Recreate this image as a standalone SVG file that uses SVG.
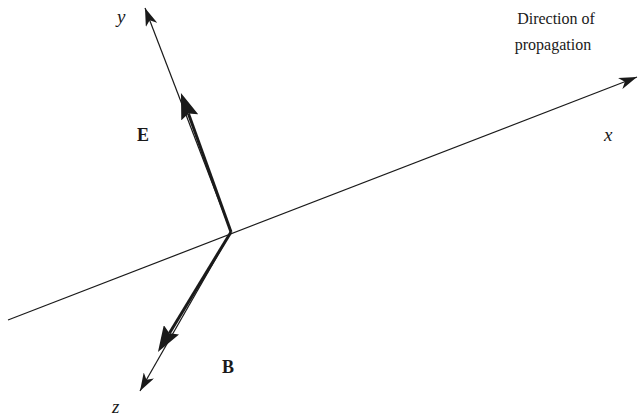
<svg xmlns="http://www.w3.org/2000/svg" width="638" height="417" viewBox="0 0 638 417">
<defs>
<marker id="thin" markerWidth="20" markerHeight="12" refX="18" refY="6" orient="auto" markerUnits="userSpaceOnUse">
<path d="M0,0 L18,6 L0,12 L5,6 Z" fill="#1a1a1a"/>
</marker>
<marker id="thick" markerWidth="28" markerHeight="18" refX="4" refY="9" orient="auto" markerUnits="userSpaceOnUse">
<path d="M0,0 L26,9 L0,18 L4,9 Z" fill="#1a1a1a"/>
</marker>
</defs>
<style>
.axis{stroke:#1a1a1a;stroke-width:1.2;fill:none}
.vec{stroke:#1a1a1a;stroke-width:3;fill:none}
.it{font-family:"Liberation Serif",serif;font-style:italic;font-size:19px;fill:#1a1a1a}
.bd{font-family:"Liberation Serif",serif;font-weight:bold;font-size:18px;fill:#1a1a1a}
.tx{font-family:"Liberation Serif",serif;font-size:16px;fill:#1a1a1a}
</style>
<rect width="638" height="417" fill="#fff"/>
<g id="connectors">
<line class="axis" x1="8" y1="320" x2="637" y2="77" marker-end="url(#thin)"/>
<line class="axis" x1="231" y1="232" x2="145" y2="8" marker-end="url(#thin)"/>
<line class="axis" x1="231" y1="232" x2="140" y2="391" marker-end="url(#thin)"/>
<line class="vec" x1="231" y1="232" x2="188.4" y2="113.6" marker-end="url(#thick)"/>
<line class="vec" x1="231" y1="232" x2="169.4" y2="333.2" marker-end="url(#thick)"/>
</g>
<g id="label-y"><text class="it" x="117" y="23">y</text></g>
<g id="label-E"><text class="bd" x="137" y="141">E</text></g>
<g id="label-x"><text class="it" x="604" y="141">x</text></g>
<g id="label-B"><text class="bd" x="222" y="373">B</text></g>
<g id="label-z"><text class="it" x="112" y="413">z</text></g>
<g id="label-dir">
<text class="tx" x="556" y="24" text-anchor="middle">Direction of</text>
<text class="tx" x="553" y="50" text-anchor="middle">propagation</text>
</g>
</svg>
